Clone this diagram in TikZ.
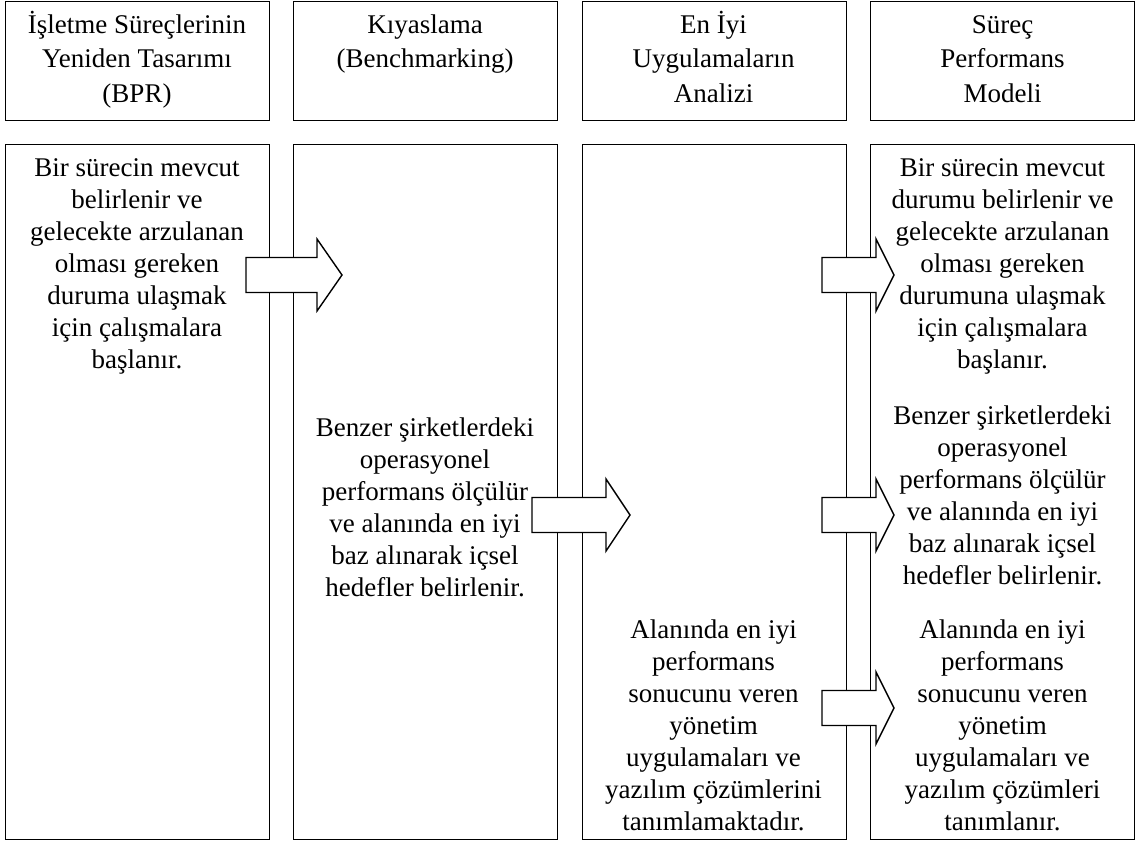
\documentclass[tikz,border=0pt]{standalone}
\usepackage{fontspec}
\setmainfont{Liberation Serif}
\usetikzlibrary{positioning}

\tikzset{
  colbox/.style={draw, line width=1.4pt, minimum width=264pt, inner sep=0pt, anchor=north west},
  headtext/.style={align=center, anchor=north, inner sep=0pt, font=\fontsize{27}{34.5}\selectfont},
  bodytext/.style={align=center, anchor=north, inner sep=0pt, font=\fontsize{27}{32}\selectfont},
  blockarrow/.style={draw, line width=1.4pt, fill=white, line join=miter}
}

% first line always 25pt high, so node tops line up
\newcommand{\topline}{\rule{0pt}{25pt}}

% block arrow: tail point, total length, head length
\newcommand{\blockarrow}[3]{%
  \draw[blockarrow] (#1) ++(0,-17.5) -- ++(#2-#3,0) -- ++(0,-18.5) -- ++(#3,36)
    -- ++(-#3,36) -- ++(0,-18.5) -- ++(#3-#2,0) -- cycle;
}

\begin{document}
\begin{tikzpicture}[x=1pt,y=-1pt]
  \useasboundingbox (0,0) rectangle (1138,843);

  % Header boxes
  \node[colbox, minimum height=119pt] (bprhead) at (5,0.7) {};
  \node[colbox, minimum height=119pt] (benchhead) at (293,0.7) {};
  \node[colbox, minimum height=119pt] (besthead) at (582,0.7) {};
  \node[colbox, minimum height=119pt] (perfhead) at (870,0.7) {};

  % Column boxes
  \node[colbox, minimum height=695pt] (bprcol) at (5,144) {};
  \node[colbox, minimum height=695pt] (benchcol) at (293,144) {};
  \node[colbox, minimum height=695pt] (bestcol) at (582,144) {};
  \node[colbox, minimum height=695pt] (perfcol) at (870,144) {};

  % Arrows
  \coordinate (bprout) at (246,275);
  \coordinate (benchout) at (532,515);
  \coordinate (bproutb) at (822,275);
  \coordinate (benchoutb) at (822,515);
  \coordinate (bestout) at (822,708);
  \blockarrow{bprout}{96}{25}
  \blockarrow{benchout}{98}{24}
  \blockarrow{bproutb}{72}{18}
  \blockarrow{benchoutb}{72}{18}
  \blockarrow{bestout}{72}{18}

  % Header labels
  \node[headtext] (bprtitle) at (137,8) {\topline İşletme Süreçlerinin\\Yeniden Tasarımı\\(BPR)};
  \node[headtext] (benchtitle) at (425,8) {\topline Kıyaslama\\(Benchmarking)};
  \node[headtext] (besttitle) at (713.5,8) {\topline En İyi\\Uygulamaların\\Analizi};
  \node[headtext] (perftitle) at (1002.5,8) {\topline Süreç\\Performans\\Modeli};

  % Column texts
  \node[bodytext] (bprtext) at (137,151) {\topline Bir sürecin mevcut\\belirlenir ve\\gelecekte arzulanan\\olması gereken\\duruma ulaşmak\\için çalışmalara\\başlanır.};
  \node[bodytext] (benchtext) at (425,411) {\topline Benzer şirketlerdeki\\operasyonel\\performans ölçülür\\ve alanında en iyi\\baz alınarak içsel\\hedefler belirlenir.};
  \node[bodytext] (besttext) at (713.5,613) {\topline Alanında en iyi\\performans\\sonucunu veren\\yönetim\\uygulamaları ve\\yazılım çözümlerini\\tanımlamaktadır.};
  \node[bodytext] (perftexta) at (1002.5,151) {\topline Bir sürecin mevcut\\durumu belirlenir ve\\gelecekte arzulanan\\olması gereken\\durumuna ulaşmak\\için çalışmalara\\başlanır.};
  \node[bodytext] (perftextb) at (1002.5,399) {\topline Benzer şirketlerdeki\\operasyonel\\performans ölçülür\\ve alanında en iyi\\baz alınarak içsel\\hedefler belirlenir.};
  \node[bodytext] (perftextc) at (1002.5,613) {\topline Alanında en iyi\\performans\\sonucunu veren\\yönetim\\uygulamaları ve\\yazılım çözümleri\\tanımlanır.};
\end{tikzpicture}
\end{document}
